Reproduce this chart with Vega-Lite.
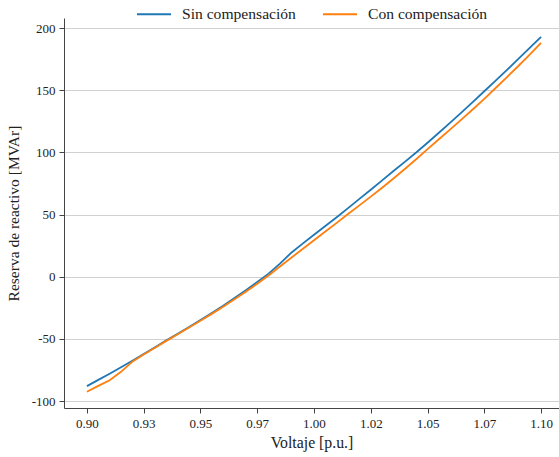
{
  "$schema": "https://vega.github.io/schema/vega-lite/v6.json",
  "autosize": "none",
  "width": 495,
  "height": 390,
  "padding": {"left": 64, "top": 18, "right": 0, "bottom": 49},
  "background": "white",
  "config": {
    "font": "Liberation Serif",
    "view": {"stroke": null}
  },
  "datasets": {
    "curves": [
      {"v": 0.900, "q": -88.0, "s": "Sin compensación"},
      {"v": 0.905, "q": -83.0, "s": "Sin compensación"},
      {"v": 0.910, "q": -78.0, "s": "Sin compensación"},
      {"v": 0.915, "q": -72.8, "s": "Sin compensación"},
      {"v": 0.920, "q": -67.6, "s": "Sin compensación"},
      {"v": 0.925, "q": -62.2, "s": "Sin compensación"},
      {"v": 0.930, "q": -56.7, "s": "Sin compensación"},
      {"v": 0.935, "q": -51.2, "s": "Sin compensación"},
      {"v": 0.940, "q": -45.8, "s": "Sin compensación"},
      {"v": 0.945, "q": -40.4, "s": "Sin compensación"},
      {"v": 0.950, "q": -34.9, "s": "Sin compensación"},
      {"v": 0.955, "q": -29.2, "s": "Sin compensación"},
      {"v": 0.960, "q": -23.3, "s": "Sin compensación"},
      {"v": 0.965, "q": -17.1, "s": "Sin compensación"},
      {"v": 0.970, "q": -10.8, "s": "Sin compensación"},
      {"v": 0.975, "q": -4.3, "s": "Sin compensación"},
      {"v": 0.980, "q": 2.5, "s": "Sin compensación"},
      {"v": 0.985, "q": 10.5, "s": "Sin compensación"},
      {"v": 0.990, "q": 19.3, "s": "Sin compensación"},
      {"v": 0.995, "q": 26.6, "s": "Sin compensación"},
      {"v": 1.000, "q": 33.7, "s": "Sin compensación"},
      {"v": 1.005, "q": 40.8, "s": "Sin compensación"},
      {"v": 1.010, "q": 47.9, "s": "Sin compensación"},
      {"v": 1.015, "q": 55.2, "s": "Sin compensación"},
      {"v": 1.020, "q": 62.6, "s": "Sin compensación"},
      {"v": 1.025, "q": 70.0, "s": "Sin compensación"},
      {"v": 1.030, "q": 77.5, "s": "Sin compensación"},
      {"v": 1.035, "q": 85.0, "s": "Sin compensación"},
      {"v": 1.040, "q": 92.4, "s": "Sin compensación"},
      {"v": 1.045, "q": 99.9, "s": "Sin compensación"},
      {"v": 1.050, "q": 107.8, "s": "Sin compensación"},
      {"v": 1.055, "q": 115.8, "s": "Sin compensación"},
      {"v": 1.060, "q": 124.0, "s": "Sin compensación"},
      {"v": 1.065, "q": 132.2, "s": "Sin compensación"},
      {"v": 1.070, "q": 140.6, "s": "Sin compensación"},
      {"v": 1.075, "q": 149.2, "s": "Sin compensación"},
      {"v": 1.080, "q": 157.8, "s": "Sin compensación"},
      {"v": 1.085, "q": 166.4, "s": "Sin compensación"},
      {"v": 1.090, "q": 175.2, "s": "Sin compensación"},
      {"v": 1.095, "q": 184.0, "s": "Sin compensación"},
      {"v": 1.100, "q": 193.0, "s": "Sin compensación"},
      {"v": 0.900, "q": -92.5, "s": "Con compensación"},
      {"v": 0.905, "q": -87.8, "s": "Con compensación"},
      {"v": 0.910, "q": -83.3, "s": "Con compensación"},
      {"v": 0.915, "q": -76.5, "s": "Con compensación"},
      {"v": 0.920, "q": -68.3, "s": "Con compensación"},
      {"v": 0.925, "q": -62.6, "s": "Con compensación"},
      {"v": 0.930, "q": -57.1, "s": "Con compensación"},
      {"v": 0.935, "q": -51.6, "s": "Con compensación"},
      {"v": 0.940, "q": -46.2, "s": "Con compensación"},
      {"v": 0.945, "q": -40.8, "s": "Con compensación"},
      {"v": 0.950, "q": -35.4, "s": "Con compensación"},
      {"v": 0.955, "q": -29.9, "s": "Con compensación"},
      {"v": 0.960, "q": -24.2, "s": "Con compensación"},
      {"v": 0.965, "q": -18.2, "s": "Con compensación"},
      {"v": 0.970, "q": -12.0, "s": "Con compensación"},
      {"v": 0.975, "q": -5.6, "s": "Con compensación"},
      {"v": 0.980, "q": 1.0, "s": "Con compensación"},
      {"v": 0.985, "q": 8.2, "s": "Con compensación"},
      {"v": 0.990, "q": 15.3, "s": "Con compensación"},
      {"v": 0.995, "q": 22.3, "s": "Con compensación"},
      {"v": 1.000, "q": 29.3, "s": "Con compensación"},
      {"v": 1.005, "q": 36.3, "s": "Con compensación"},
      {"v": 1.010, "q": 43.3, "s": "Con compensación"},
      {"v": 1.015, "q": 50.4, "s": "Con compensación"},
      {"v": 1.020, "q": 57.4, "s": "Con compensación"},
      {"v": 1.025, "q": 64.4, "s": "Con compensación"},
      {"v": 1.030, "q": 71.6, "s": "Con compensación"},
      {"v": 1.035, "q": 79.0, "s": "Con compensación"},
      {"v": 1.040, "q": 86.6, "s": "Con compensación"},
      {"v": 1.045, "q": 94.5, "s": "Con compensación"},
      {"v": 1.050, "q": 102.6, "s": "Con compensación"},
      {"v": 1.055, "q": 110.6, "s": "Con compensación"},
      {"v": 1.060, "q": 118.5, "s": "Con compensación"},
      {"v": 1.065, "q": 126.5, "s": "Con compensación"},
      {"v": 1.070, "q": 134.7, "s": "Con compensación"},
      {"v": 1.075, "q": 143.1, "s": "Con compensación"},
      {"v": 1.080, "q": 151.8, "s": "Con compensación"},
      {"v": 1.085, "q": 160.6, "s": "Con compensación"},
      {"v": 1.090, "q": 169.5, "s": "Con compensación"},
      {"v": 1.095, "q": 178.7, "s": "Con compensación"},
      {"v": 1.100, "q": 188.0, "s": "Con compensación"}
    ]
  },
  "data": {"name": "curves"},
  "mark": {"type": "line", "strokeWidth": 1.8, "clip": true},
  "encoding": {
    "x": {
      "field": "v",
      "type": "quantitative",
      "scale": {"domain": [0.8899, 1.1079], "nice": false, "zero": false},
      "axis": {
        "title": "Voltaje [p.u.]",
        "titleFont": "Liberation Serif",
        "titleFontSize": 15.8,
        "titleFontWeight": "normal",
        "titleColor": "#222",
        "titlePadding": 5,
        "values": [0.9, 0.925, 0.95, 0.975, 1.0, 1.025, 1.05, 1.075, 1.1],
        "format": ".2f",
        "labelFont": "Liberation Serif",
        "labelFontSize": 13,
        "labelColor": "#222",
        "labelPadding": 4,
        "grid": false,
        "tickColor": "#444",
        "tickSize": 5,
        "domainColor": "#444",
        "domainWidth": 1
      }
    },
    "y": {
      "field": "q",
      "type": "quantitative",
      "scale": {"domain": [-105.6, 208.1], "nice": false, "zero": false},
      "axis": {
        "title": "Reserva de reactivo [MVAr]",
        "titleFont": "Liberation Serif",
        "titleFontSize": 15.5,
        "titleFontWeight": "normal",
        "titleColor": "#222",
        "titlePadding": 10,
        "values": [-100, -50, 0, 50, 100, 150, 200],
        "labelExpr": "toString(datum.value)",
        "labelFont": "Liberation Serif",
        "labelFontSize": 13,
        "labelColor": "#222",
        "labelPadding": 4,
        "grid": true,
        "gridColor": "#d0d0d0",
        "gridWidth": 1.2,
        "tickColor": "#444",
        "tickSize": 5,
        "domainColor": "#444",
        "domainWidth": 1
      }
    },
    "color": {
      "field": "s",
      "type": "nominal",
      "scale": {
        "domain": ["Sin compensación", "Con compensación"],
        "range": ["#1f77b4", "#ff7f0e"]
      },
      "legend": {
        "title": null,
        "orient": "none",
        "direction": "horizontal",
        "legendX": 72,
        "legendY": -22,
        "symbolType": "stroke",
        "symbolSize": 1156,
        "symbolStrokeWidth": 2,
        "labelFont": "Liberation Serif",
        "labelFontSize": 15.6,
        "labelColor": "#222",
        "labelOffset": 10,
        "columnPadding": 23
      }
    }
  }
}
